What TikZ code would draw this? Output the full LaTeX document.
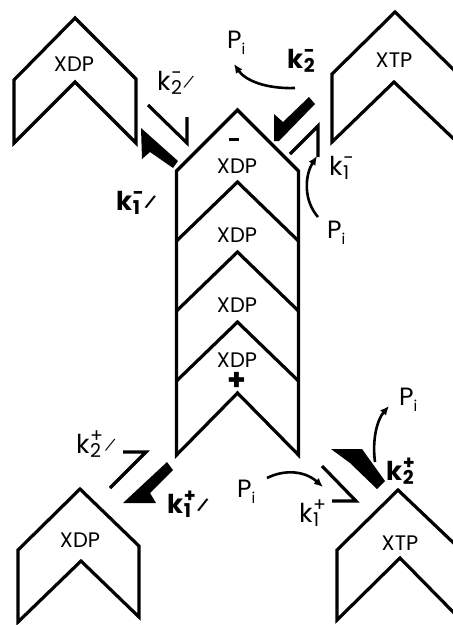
\documentclass[tikz,border=0pt]{standalone}
\usepackage{fontspec}
\setmainfont{Poppins}
\usetikzlibrary{arrows.meta}
\newcommand\ksz[1]{{\fontsize{19}{19}\selectfont #1}}
\newcommand\Klab[3]{k\kern0.5pt\rlap{\raisebox{-4pt}{\ksz{#1}}}\raisebox{11pt}{\ksz{#2}}#3}
\newcommand\kpr{\kern1.5pt\raisebox{5pt}{\rotatebox{-25}{\fontsize{13}{13}\selectfont /}}}
\newcommand\Pilab{P\raisebox{-6pt}{\fontsize{15}{15}\selectfont i}}
\tikzset{
  unit/.style={draw=black, line width=3.2pt, line join=miter},
  hookline/.style={draw=black, line width=3.2pt},
  wedge/.style={fill=black, draw=none},
  ktext/.style={anchor=base west, inner sep=0pt, font=\fontsize{26}{26}\selectfont},
  kbold/.style={ktext, font=\fontsize{26}{26}\selectfont\bfseries},
  ptext/.style={anchor=base west, inner sep=0pt, font=\fontsize{25}{25}\selectfont},
  utext/.style={anchor=base, inner sep=0pt, font=\fontsize{21}{21}\selectfont},
  arr/.style={line width=2.6pt, -{Latex[length=9pt,width=8pt]}}
}
\begin{document}
\begin{tikzpicture}[x=1pt,y=-1pt]
\useasboundingbox (0,0) rectangle (453,625);
% free monomers
\draw[unit] (14,80)--(75,18)--(136,79)--(136,143)--(75,82)--(14,143)--cycle;
\draw[unit] (332,74)--(395,12)--(458,74)--(458,143)--(394,82)--(332,142)--cycle;
\draw[unit] (18,550)--(80,489)--(139,546)--(139,617)--(81,561)--(18,622)--cycle;
\draw[unit] (337,550)--(398,490)--(461,550)--(461,620)--(400,558)--(337,620)--cycle;
\node[utext] (m1) at (74,71) {XDP};
\node[utext] (m2) at (394,67) {XTP};
\node[utext] (m3) at (80,547) {XDP};
\node[utext] (m4) at (400,550) {XTP};
% filament
\draw[unit] (176.5,455)--(176.5,171)--(237.5,110)--(298.5,171)--(298.5,455)--(237.5,393)--cycle;
\draw[unit] (176.5,241)--(237.5,182)--(298.5,241);
\draw[unit] (176.5,311)--(237.5,252)--(298.5,311);
\draw[unit] (176.5,381)--(237.5,322)--(298.5,381);
\node[utext] (f1) at (237,173) {XDP};
\node[utext] (f2) at (237,242) {XDP};
\node[utext] (f3) at (237,312) {XDP};
\node[utext] (f4) at (237,367) {XDP};
\node[inner sep=0pt] (mi) at (234,139) {\rule{10pt}{3pt}};
\node[inner sep=0pt, font=\fontsize{30}{30}\selectfont\bfseries] (pl) at (237,381) {+};
% top-left interface
\draw[hookline] (148,105)--(187,143)--(187,117);
\fill[wedge] (141,128)--(178,161)--(173,168)--(150,152)--(142,159)--cycle;
\node[ktext] (k2ml) at (157,90) {\Klab{2}{−}{\kpr}};
\node[kbold] (k1ml) at (116,210) {\Klab{1}{−}{\kpr}};
% top-right interface
\fill[wedge] (274,114)--(283,122)--(309,97)--(315,104)--(279,141)--(274,141)--cycle;
\draw[hookline] (290,154)--(318,126)--(318,157);
\node[kbold] (k2mr) at (287,68) {\Klab{2}{−}{}};
\node[ktext] (k1mr) at (329,175) {\Klab{1}{−}{}};
\node[ptext] (p1) at (227,48) {\Pilab};
\node[ptext] (p2) at (327,238) {\Pilab};
\coordinate (a1s) at (295,88);
\coordinate (a1e) at (234,64);
\draw[arr] (a1s) .. controls (265,89) and (245,80) .. (a1e);
\coordinate (a2s) at (318,217);
\coordinate (a2e) at (317,156);
\draw[arr] (a2s) .. controls (303,200) and (305,175) .. (a2e);
% bottom-left interface
\draw[hookline] (123,452)--(146,452)--(110,488);
\fill[wedge] (123,503)--(167,462)--(173,470)--(150,493)--(156,503)--cycle;
\node[ktext] (k2pl) at (76,453) {\Klab{2}{+}{\kpr}};
\node[kbold] (k1pl) at (167,513) {\Klab{1}{+}{\kpr}};
% bottom-right interface
\fill[wedge] (331,449)--(362,449)--(385,481)--(377,489)--(350,463)--cycle;
\draw[hookline] (322,466)--(356,501)--(332,501);
\node[kbold] (k2pr) at (386,480) {\Klab{2}{+}{}};
\node[ktext] (k1pr) at (299,522) {\Klab{1}{+}{}};
\node[ptext] (p3) at (399,405) {\Pilab};
\node[ptext] (p4) at (237,497) {\Pilab};
\coordinate (a3s) at (375,462);
\coordinate (a3e) at (389,406);
\draw[arr] (a3s) .. controls (372,440) and (377,420) .. (a3e);
\coordinate (a4s) at (267,478);
\coordinate (a4e) at (323,487);
\draw[arr] (a4s) .. controls (285,469) and (305,471) .. (a4e);
\end{tikzpicture}
\end{document}
